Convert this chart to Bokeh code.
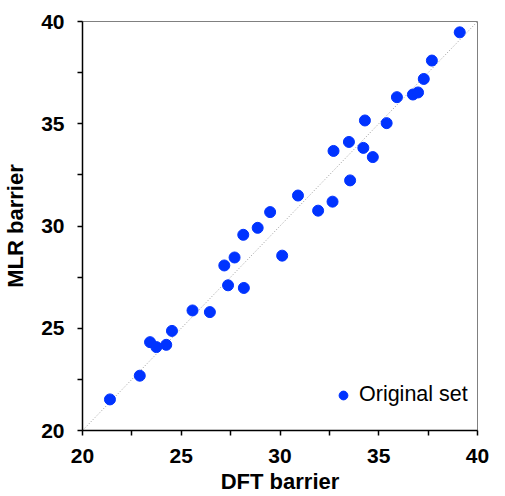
from bokeh.plotting import figure
from bokeh.models import FixedTicker, Range1d, Legend, LegendItem, ColumnDataSource
from bokeh.embed import file_html
from bokeh.resources import INLINE

dft_barrier = [21.39, 22.90, 23.42, 23.74, 24.24, 24.53, 25.57, 26.45, 27.18, 27.37,
               27.70, 28.17, 28.14, 28.87, 29.50, 30.11, 30.91, 31.93, 32.66, 33.55,
               32.71, 33.49, 34.22, 34.70, 34.30, 35.40, 35.92, 36.73, 36.99, 37.28,
               37.69, 39.10]
mlr_barrier = [21.52, 22.68, 24.32, 24.08, 24.19, 24.87, 25.87, 25.79, 28.07, 27.10,
               28.46, 26.97, 29.57, 29.91, 30.68, 28.55, 31.49, 30.75, 31.19, 32.23,
               33.67, 34.11, 33.82, 33.37, 35.16, 35.03, 36.30, 36.43, 36.53, 37.19,
               38.09, 39.47]
major_ticks = [20, 25, 30, 35, 40]
minor_ticks = [22.5, 27.5, 32.5, 37.5]
axis_min, axis_max = 20, 40
diag = [axis_min, axis_max]

FONT = "Liberation Sans"

p = figure(width=489, height=496, output_backend="svg", toolbar_location=None,
           x_range=Range1d(axis_min, axis_max), y_range=Range1d(axis_min, axis_max),
           min_border_left=72, min_border_right=12, min_border_top=21, min_border_bottom=65)
p.grid.visible = False
p.outline_line_color = "#808080"
p.outline_line_width = 1
p.background_fill_color = "white"
p.border_fill_color = "white"

p.line(diag, diag, line_color="#999999", line_dash="1 2", line_width=1)
src = ColumnDataSource(dict(x=dft_barrier, y=mlr_barrier))
r = p.scatter("x", "y", source=src, size=11, fill_color="#0033ff", line_color="#0033ff")

for ax in (p.xaxis[0], p.yaxis[0]):
    ax.ticker = FixedTicker(ticks=major_ticks, minor_ticks=minor_ticks)
    ax.axis_line_color = "black"
    ax.axis_line_width = 1.5
    ax.major_tick_line_color = "black"
    ax.minor_tick_line_color = "black"
    ax.major_tick_line_width = 1.5
    ax.minor_tick_line_width = 1.5
    ax.major_tick_in = 0
    ax.major_tick_out = 5
    ax.minor_tick_in = 0
    ax.minor_tick_out = 5
    ax.major_label_text_font = FONT
    ax.major_label_text_font_style = "bold"
    ax.major_label_text_font_size = "21px"
    ax.major_label_text_color = "black"
    ax.axis_label_text_font = FONT
    ax.axis_label_text_font_style = "bold"
    ax.axis_label_text_font_size = "22px"
    ax.axis_label_text_color = "black"

p.xaxis.axis_label = "DFT barrier"
p.yaxis.axis_label = "MLR barrier"
p.xaxis.major_label_standoff = 13
p.xaxis.axis_label_standoff = 3
p.yaxis.major_label_standoff = 13
p.yaxis.axis_label_standoff = 10

legend = Legend(items=[LegendItem(label="Original set", renderers=[r])],
                location=(250, 23), border_line_color=None, background_fill_alpha=0,
                padding=0, margin=0, glyph_width=22, glyph_height=22, label_standoff=5,
                label_text_font=FONT, label_text_font_size="21.5px", label_text_color="black")
p.add_layout(legend)

open("out.html", "w").write(file_html(p, INLINE))
